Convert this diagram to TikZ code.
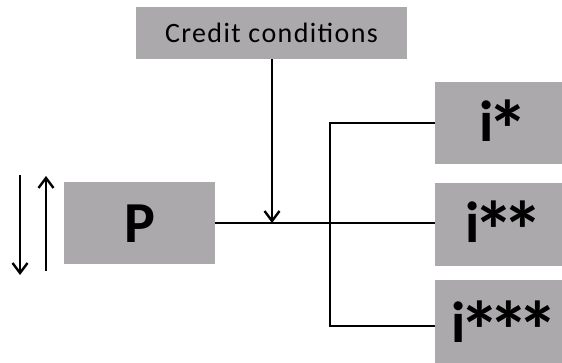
\documentclass[tikz,border=0pt]{standalone}
\usepackage{fontspec}
\setmainfont{Carlito}
\usetikzlibrary{arrows.meta}
\definecolor{boxgray}{RGB}{172,169,172}
\newcommand{\bast}{\makebox[29pt][c]{\raisebox{-17pt}[0pt][0pt]{\fontsize{82}{82}\selectfont\bfseries *}}}
\tikzset{
  box/.style={rectangle, fill=boxgray, draw=none, inner sep=0pt},
  bigtxt/.style={font=\fontsize{58}{60}\selectfont\bfseries, inner sep=0pt},
  conn/.style={line width=2.4pt, draw=black},
  arr/.style={conn, -{Straight Barb[length=10pt,width=15pt,line width=2.4pt]}}
}
\begin{document}
\begin{tikzpicture}[x=1pt,y=-1pt]
\useasboundingbox (0,0) rectangle (562,363);
\clip (0,0) rectangle (562,363);
\fill[white] (0,0) rectangle (562,363);
\node[box, minimum width=271pt, minimum height=52pt, font=\fontsize{28}{30}\selectfont\addfontfeature{LetterSpace=5}] (credit) at (271.5,33) {Credit conditions};
\node[box, minimum width=151pt, minimum height=82pt] (Pbox) at (139.5,223) {};
\node[bigtxt, anchor=base west] (P) at (124,243) {P};
\node[box, minimum width=127pt, minimum height=82pt] (i1) at (498.5,123) {};
\node[box, minimum width=127pt, minimum height=83pt] (i2) at (498.5,224.5) {};
\node[box, minimum width=127pt, minimum height=83pt] (i3) at (498.5,321.5) {};
\node[bigtxt, anchor=base west] (t1) at (479,142) {i\bast};
\node[bigtxt, anchor=base west] (t2) at (465,243) {i\bast\bast};
\node[bigtxt, anchor=base west] (t3) at (451,342) {i\bast\bast\bast};
\coordinate (m) at (272,223);
\coordinate (j1) at (330,123);
\coordinate (j3) at (330,326);
\coordinate (e3) at (435,326);
\draw[conn] (Pbox.east |- m) -- (i2.west |- m);
\draw[arr] (credit.south -| m) -- (m);
\draw[conn] (i1.west) -- (j1) -- (j3) -- (e3);
\coordinate (dtop) at (20,175);
\coordinate (dbot) at (20,275);
\coordinate (utop) at (46,176);
\coordinate (ubot) at (46,271);
\draw[arr] (dtop) -- (dbot);
\draw[arr] (ubot) -- (utop);
\end{tikzpicture}
\end{document}
